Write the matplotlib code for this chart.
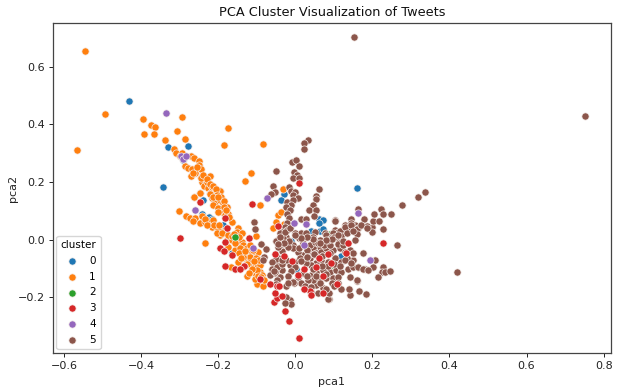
import matplotlib
matplotlib.use("Agg")
import matplotlib.pyplot as plt

cluster0_x = [-0.43,-0.33,-0.278,-0.29,-0.344,-0.238,-0.243,-0.224,-0.217,-0.187,-0.182,-0.165,0.16,-0.029,-0.036,0.061,0.071,0.061,0.04,0.034,0.021,0.064,0.071,-0.01,0.118,0.003]
cluster0_y = [0.48,0.322,0.326,0.277,0.184,0.137,0.089,0.08,0.071,0.051,0.028,-0.047,0.178,0.16,0.139,0.071,0.068,0.057,0.031,0.008,0.01,0.03,0.037,-0.003,-0.056,-0.1]

cluster1_x = [-0.545,-0.494,-0.565,-0.394,-0.373,-0.363,-0.392,-0.365,-0.294,-0.306,-0.339,-0.285,-0.174,-0.184,-0.084,-0.114,-0.129,-0.031,
 -0.315,-0.31,-0.30,-0.293,-0.27,-0.262,-0.249,-0.249,-0.244,-0.285,-0.277,-0.269,-0.271,-0.26,-0.244,-0.22,-0.243,-0.232,-0.237,-0.226,-0.215,-0.194,-0.208,-0.22,-0.246,-0.263,
 -0.265,-0.245,-0.23,-0.217,-0.208,-0.194,-0.246,-0.263,-0.217,-0.208,-0.195,-0.187,-0.213,-0.2,-0.191,-0.178,-0.182,-0.201,-0.174,
 -0.301,-0.284,-0.273,-0.259,-0.265,-0.246,-0.241,-0.233,-0.221,-0.217,-0.213,-0.2,-0.195,-0.182,-0.169,-0.178,-0.165,-0.152,-0.139,-0.148,-0.152,-0.139,-0.165,-0.187,-0.204,
 -0.174,-0.157,-0.139,-0.126,-0.113,-0.105,-0.096,-0.126,-0.148,-0.113,-0.1,-0.092,-0.109,-0.093,-0.124,-0.113,-0.102,-0.092,-0.099,-0.083,-0.167,-0.233,-0.103,-0.091,
 -0.131,-0.118,-0.087,-0.045,-0.038,-0.05,-0.058,-0.03,
 -0.255,-0.238,-0.228,-0.222,-0.212,-0.205,-0.202,-0.192,-0.186,-0.222,-0.212,-0.2,-0.185,-0.18,-0.172,-0.235,-0.228,-0.21,-0.197,-0.19,-0.175,-0.165,-0.158,-0.145,-0.135,-0.125,-0.118,-0.11,-0.102,-0.095,-0.143,-0.135,-0.12,-0.108,-0.1,-0.105,-0.097,-0.113,-0.12,-0.09,-0.082,-0.155,-0.145,-0.13,-0.14,-0.125]
cluster1_y = [0.654,0.436,0.313,0.419,0.399,0.39,0.366,0.368,0.427,0.376,0.345,0.349,0.387,0.329,0.333,0.232,0.204,0.176,
 0.315,0.30,0.29,0.30,0.29,0.284,0.273,0.26,0.244,0.257,0.248,0.245,0.222,0.23,0.219,0.222,0.2,0.204,0.185,0.178,0.182,0.17,0.168,0.162,0.163,0.15,
 0.23,0.213,0.201,0.184,0.167,0.169,0.161,0.147,0.144,0.132,0.138,0.126,0.12,0.109,0.097,0.115,0.086,0.097,0.091,
 0.101,0.083,0.074,0.076,0.065,0.057,0.082,0.063,0.063,0.043,0.068,0.037,0.016,0.034,0.01,-0.001,-0.001,-0.013,-0.007,0.039,0.028,0.025,0.063,0.022,0.022,
 -0.024,-0.036,-0.03,-0.047,-0.042,-0.053,-0.042,-0.071,-0.076,-0.088,-0.094,-0.088,-0.065,-0.071,-0.126,-0.111,-0.123,-0.111,-0.155,-0.16,-0.094,-0.013,0.014,0.12,
 -0.053,-0.059,-0.123,0.085,0.095,0.06,0.04,0.055,
 0.252,0.225,0.212,0.192,0.188,0.175,0.155,0.148,0.135,0.158,0.15,0.148,0.112,0.102,0.078,0.072,0.05,0.05,0.05,0.025,0.018,0.012,0.02,0.008,-0.018,-0.028,-0.02,-0.035,-0.065,-0.07,-0.03,-0.06,-0.08,-0.075,-0.105,-0.135,-0.125,-0.1,-0.115,-0.13,-0.14,-0.012,-0.045,-0.04,-0.062,-0.085]

cluster2_x = [-0.156,0.09,0.099]
cluster2_y = [0.01,0.02,-0.089]

cluster3_x = [-0.298,-0.112,-0.247,0.01,-0.015,-0.027,-0.054,-0.047,-0.033,-0.053,-0.065,-0.046,-0.195,-0.185,-0.163,-0.182,-0.157,-0.134,-0.119,-0.091,-0.053,-0.045,-0.03,0.01,
 -0.008,0.022,0.008,0.061,0.086,0.092,0.136,0.227,0.073,0.109,0.038,0.073,0.022,-0.043,-0.133,0.131,0.042,0.053,-0.142,-0.182,-0.176,-0.182]
cluster3_y = [0.005,0.124,0.13,-0.341,-0.281,-0.249,-0.216,-0.203,-0.195,-0.184,-0.154,-0.161,-0.03,-0.039,-0.053,-0.092,-0.1,-0.092,0.007,-0.137,-0.05,0.048,-0.058,0.198,
 -0.075,-0.102,-0.123,-0.065,-0.05,-0.08,-0.012,-0.012,-0.125,-0.152,-0.177,-0.186,-0.171,-0.16,-0.091,-0.047,-0.192,-0.094,-0.103,0.074,0.039,-0.007]

cluster4_x = [-0.336,-0.295,-0.292,-0.261,-0.072,0.164,-0.004,0.029,0.022,0.195,-0.109,-0.284]
cluster4_y = [0.439,0.291,0.28,0.104,0.144,0.094,0.057,0.053,-0.017,-0.071,-0.03,0.29]

cluster5_x = [0.152,0.751,0.419,
 0.032,0.022,0.022,-0.008,0.003,0.01,-0.05,-0.003,0.005,-0.005,0.01,-0.057,-0.016,-0.052,-0.064,-0.01,0.0,0.062,-0.005,0.055,0.054,0.007,-0.022,-0.007,-0.01,-0.025,-0.014,-0.022,-0.017,
 0.047,0.035,0.054,0.048,0.015,0.027,-0.022,0.104,-0.027,-0.035,-0.022,-0.04,-0.05,-0.024,-0.037,-0.021,-0.035,-0.005,0.0,0.014,0.01,0.029,0.051,0.047,0.077,0.103,0.116,0.129,0.144,0.155,0.142,0.163,0.163,0.178,0.198,0.185,0.202,0.205,0.222,0.218,0.228,0.248,0.277,0.319,0.336,0.228,0.2,0.263,
 0.176,0.15,0.163,0.181,0.207,0.202,0.228,0.224,0.234,0.246,0.214,0.161,0.141,0.166,0.183,0.088,
 0.103,0.144,0.129,0.142,0.159,0.112,0.099,0.081,0.064,0.077,0.094,0.107,0.12,0.064,0.047,0.038,0.051,0.034,0.021,0.008,-0.005,-0.018,-0.031,-0.04,-0.027,-0.014,-0.04,-0.044,-0.057,-0.048,-0.061,-0.035,-0.053,-0.04,-0.048,-0.016,-0.014,-0.001,0.012,0.038,0.055,0.068,0.081,0.099,0.116,0.129,0.142,0.15,0.133,0.12,0.103,0.086,0.068,0.055,0.042,0.029,0.021,0.008,0.042,0.055,0.073,0.09,0.107,0.12,0.137,0.15,0.163,0.176,0.189,0.142,0.161,0.086,0.088,0.073,0.055,0.064,0.047,0.034,0.081,0.099,0.112,-0.014,-0.024,-0.012,-0.027,
 -0.108,-0.105,-0.09,-0.077,-0.08,-0.083,-0.051,-0.061,-0.061,-0.048,-0.066,-0.053,-0.044,-0.05,-0.04,
 0.02,0.01,0.03,0.06,0.075,0.09,0.11,0.125,0.07,0.05,0.03,0.015,0.0,-0.01,-0.025,0.045,0.06,0.085,0.1,0.115,0.13,0.145,0.08,0.065,0.095,0.11,0.03,0.015,-0.002,-0.025,-0.033,0.025,0.04,0.055,0.07,0.085,0.1,0.115,0.13,0.145,0.16,
 0.12,0.135,0.15,0.17,0.185,0.155,0.125,0.11,0.095,0.08,0.065,0.045,0.03,0.015,0.0,-0.015,-0.03,-0.045,-0.055,-0.02,-0.005,0.04,0.06,0.08,0.1,0.12,0.14,0.09,0.07,0.05,0.03,-0.05,-0.035,-0.02]
cluster5_y = [0.704,0.431,-0.112,
 0.347,0.337,0.314,0.271,0.278,0.257,0.238,0.235,0.225,0.215,0.213,0.186,0.183,0.167,0.159,0.17,0.167,0.176,0.155,0.152,0.14,0.146,0.132,0.138,0.12,0.112,0.103,0.091,0.076,
 0.12,0.102,0.102,0.082,0.073,0.071,0.059,0.067,0.045,0.028,0.034,0.01,-0.005,0.01,-0.019,-0.015,-0.038,-0.019,0.022,0.025,0.007,0.022,0.028,0.01,0.022,0.034,0.016,0.051,0.071,0.051,0.034,0.039,0.105,0.071,0.045,0.047,0.066,0.089,0.106,0.066,0.089,0.091,0.119,0.15,0.164,0.037,0.028,-0.017,
 -0.047,-0.071,-0.094,-0.1,-0.071,-0.094,-0.094,-0.111,-0.113,-0.108,-0.13,-0.142,-0.192,-0.179,-0.188,-0.204,
 0.066,0.057,0.039,0.034,0.036,0.028,0.022,0.016,-0.001,-0.007,0.005,0.005,-0.007,-0.024,-0.03,-0.019,-0.007,-0.042,-0.053,-0.042,-0.03,-0.024,0.005,0.022,0.028,0.039,-0.019,-0.065,-0.076,-0.088,-0.1,-0.105,-0.117,-0.131,-0.138,-0.138,-0.088,-0.076,-0.065,-0.065,-0.047,-0.042,-0.03,-0.036,-0.03,-0.042,-0.036,-0.047,-0.065,-0.076,-0.065,-0.076,-0.071,-0.082,-0.088,-0.082,-0.117,-0.131,-0.123,-0.111,-0.105,-0.111,-0.105,-0.111,-0.1,-0.094,-0.094,-0.1,-0.105,-0.131,-0.14,-0.204,-0.186,-0.169,-0.157,-0.14,-0.14,-0.14,-0.134,-0.134,-0.128,-0.209,-0.198,-0.223,-0.221,
 0.063,0.038,-0.014,-0.032,-0.059,-0.071,-0.067,-0.076,-0.102,-0.094,-0.123,-0.111,-0.024,-0.005,0.01,
 -0.01,-0.03,-0.035,-0.012,-0.018,-0.02,-0.015,-0.02,-0.055,-0.05,-0.06,-0.075,-0.095,-0.11,-0.07,-0.1,-0.09,-0.09,-0.085,-0.09,-0.07,-0.08,-0.12,-0.15,-0.15,-0.15,-0.125,-0.15,-0.15,-0.16,-0.085,-0.16,-0.165,-0.125,-0.09,0.0,0.01,0.03,0.045,0.05,0.02,
 0.012,0.022,0.03,0.05,0.04,0.0,-0.005,0.018,0.002,0.0,-0.012,0.002,0.01,0.005,0.015,-0.005,-0.01,-0.015,-0.11,-0.125,-0.145,-0.18,-0.185,-0.17,-0.16,-0.17,-0.17,-0.045,-0.055,-0.05,-0.06,-0.155,-0.07,-0.15]

legend_labels = ["0","1","2","3","4","5"]
colors = ["#1f77b4","#ff7f0e","#2ca02c","#d62728","#9467bd","#8c564b"]
series = {"0":(cluster0_x,cluster0_y),"1":(cluster1_x,cluster1_y),"2":(cluster2_x,cluster2_y),
          "3":(cluster3_x,cluster3_y),"4":(cluster4_x,cluster4_y),"5":(cluster5_x,cluster5_y)}
draw_order = ["0","1","2","5","3","4"]
xticks = [-0.6,-0.4,-0.2,0.0,0.2,0.4,0.6,0.8]
yticks = [-0.2,0.0,0.2,0.4,0.6]

fig = plt.figure(figsize=(6.19,3.91),dpi=100)
ax = fig.add_axes([52.7/619,1-353/391,(611-52.7)/619,(353-23)/391])
handles = {}
for k in draw_order:
    xs,ys = series[k]
    handles[k] = ax.scatter(xs,ys,s=27,color=colors[legend_labels.index(k)],edgecolors="#f5eeea",linewidths=0.5)
ax.set_xlim(-0.629,0.819)
ax.set_ylim(-0.393,0.752)
ax.set_xticks(xticks)
ax.set_yticks(yticks)
ax.tick_params(labelsize=8,length=2.8,width=0.7,colors="#222222",pad=3)
for s in ax.spines.values():
    s.set_color("#444444")
    s.set_linewidth(0.9)
ax.set_xlabel("pca1",fontsize=8,color="#222222",labelpad=4)
ax.set_ylabel("pca2",fontsize=8,color="#222222",labelpad=0)
ax.set_title("PCA Cluster Visualization of Tweets",fontsize=9.3,color="#111111",pad=5)
ax.legend([handles[k] for k in legend_labels],legend_labels,title="cluster",loc="lower left",fontsize=7.5,title_fontsize=7.5,
          bbox_to_anchor=(0.002,0.005),borderaxespad=0.25,labelspacing=0.55,handletextpad=0.7)
fig.savefig("out.png",dpi=100)
